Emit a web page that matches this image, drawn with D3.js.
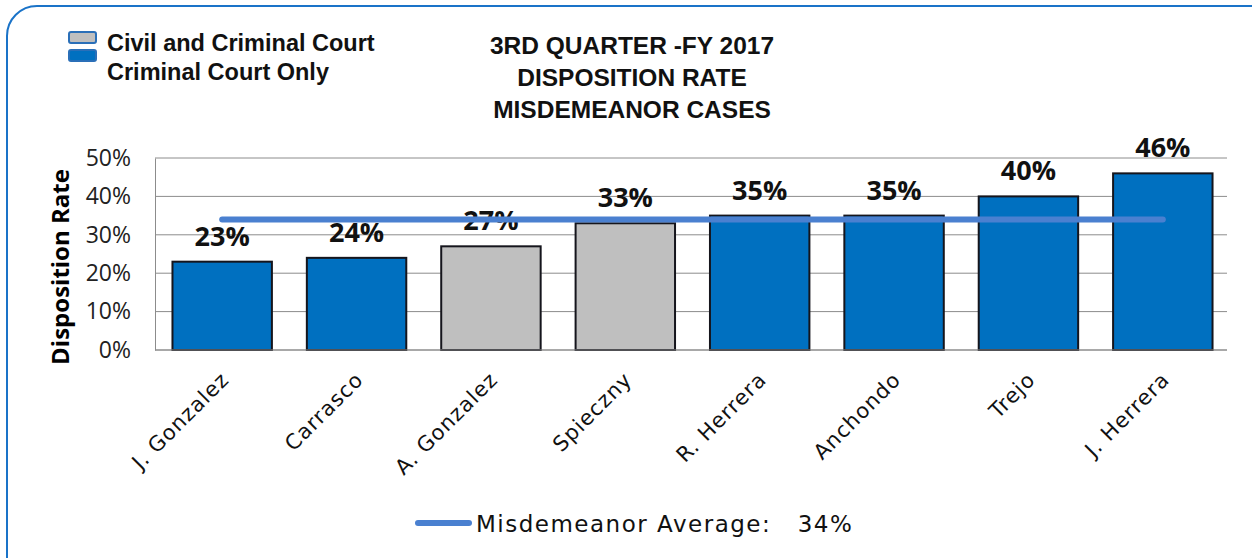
<!DOCTYPE html>
<html>
<head>
<meta charset="utf-8">
<script src="https://cdn.jsdelivr.net/npm/d3@7"></script>
<style>
  body { margin: 0; background: #fff; }
  svg { display: block; }
</style>
</head>
<body>
<div id="chart"></div>
<script>
// Chart data
const judges = ["J. Gonzalez", "Carrasco", "A. Gonzalez", "Spieczny", "R. Herrera", "Anchondo", "Trejo", "J. Herrera"]
const rates = [0.23, 0.24, 0.27, 0.33, 0.35, 0.35, 0.40, 0.46]
const courtType = ["criminal", "criminal", "civil", "civil", "criminal", "criminal", "criminal", "criminal"]
const average = 0.34
const yTicks = [0, 0.1, 0.2, 0.3, 0.4, 0.5]
const titleLines = ["3RD QUARTER -FY 2017", "DISPOSITION RATE", "MISDEMEANOR CASES"]
const legendItems = [
    { key: "civil", label: "Civil and Criminal Court" },
    { key: "criminal", label: "Criminal Court Only" }
]

const width = 1252
const height = 558
const margin = { top: 158, bottom: 208, left: 155, right: 25 }

const colors = { civil: "#bfbfbf", criminal: "#0070c0", avg: "#4a80d0" }
const geometric = "'DejaVu Sans', sans-serif"
const pct = d3.format(".0%")

const svg = d3.select("#chart").append("svg")
    .attr("width", width)
    .attr("height", height)

// Rounded frame
svg.append("rect")
    .attr("x", 7).attr("y", 6)
    .attr("width", width + 30).attr("height", height + 30)
    .attr("rx", 30)
    .attr("fill", "none")
    .attr("stroke", "#1a73c8")
    .attr("stroke-width", 2)

const x = d3.scaleBand()
    .domain(judges)
    .range([margin.left, width - margin.right + 3])
    .paddingInner(0.26)
    .paddingOuter(0.13)

const y = d3.scaleLinear()
    .domain([0, 0.5])
    .range([height - margin.bottom, margin.top])

// Gridlines
svg.append("g")
    .selectAll("line")
    .data(yTicks)
    .join("line")
    .attr("x1", margin.left)
    .attr("x2", width - margin.right)
    .attr("y1", d => y(d))
    .attr("y2", d => y(d))
    .attr("stroke", "#8c8c8c")
    .attr("stroke-width", 1)

// Left axis
const yAxis = svg.append("g")
    .attr("transform", translate(margin.left, 0))
    .call(d3.axisLeft(y).tickValues(yTicks).tickFormat(pct).tickSize(0).tickPadding(24))
yAxis.select(".domain").attr("stroke", "#8c8c8c")
yAxis.selectAll("text")
    .attr("font-family", "'Open Sans', sans-serif")
    .attr("font-size", 23)
    .attr("fill", "#222")

svg.append("text")
    .attr("transform", `translate(61,267) rotate(-90)`)
    .attr("text-anchor", "middle")
    .attr("dy", "0.35em")
    .attr("font-family", "'Open Sans', sans-serif")
    .attr("font-weight", "bold")
    .attr("font-size", 24)
    .text("Disposition Rate")

// Bars
svg.append("g")
    .selectAll("rect")
    .data(judges)
    .join("rect")
    .attr("x", d => x(d))
    .attr("y", (d, i) => y(rates[i]))
    .attr("width", x.bandwidth())
    .attr("height", (d, i) => y(0) - y(rates[i]))
    .attr("fill", (d, i) => colors[courtType[i]])
    .attr("stroke", "#15151c")
    .attr("stroke-width", 2)

// Value labels
svg.append("g")
    .selectAll("text")
    .data(judges)
    .join("text")
    .attr("x", d => x(d) + x.bandwidth() / 2)
    .attr("y", (d, i) => y(rates[i]) - 16)
    .attr("text-anchor", "middle")
    .attr("font-family", "'Open Sans', sans-serif")
    .attr("font-weight", "bold")
    .attr("font-size", 27)
    .attr("fill", "#111")
    .text((d, i) => pct(rates[i]))

// Bottom axis
const xAxis = svg.append("g")
    .attr("transform", translate(0, y(0)))
    .call(d3.axisBottom(x).tickSize(0).tickPadding(0))
xAxis.select(".domain").attr("stroke", "#8c8c8c").attr("d", `M${margin.left},0H${width - margin.right}`)
xAxis.selectAll("text")
    .attr("font-family", geometric)
    .attr("font-size", 21)
    .attr("letter-spacing", 1)
    .attr("fill", "#111")
    .attr("text-anchor", "end")
    .attr("dy", 0)
    .attr("transform", "translate(8,31) rotate(-45)")

// Average line
svg.append("line")
    .attr("x1", x(judges[0]) + x.bandwidth() / 2)
    .attr("x2", x(judges[judges.length - 1]) + x.bandwidth() / 2)
    .attr("y1", y(average))
    .attr("y2", y(average))
    .attr("stroke", colors.avg)
    .attr("stroke-width", 6)
    .attr("stroke-linecap", "round")

// Title
svg.append("text")
    .attr("text-anchor", "middle")
    .attr("font-family", "'Liberation Sans', Arial, sans-serif")
    .attr("font-weight", "bold")
    .attr("font-size", 24.5)
    .attr("fill", "#111")
    .selectAll("tspan")
    .data(titleLines)
    .join("tspan")
    .attr("x", 632)
    .attr("y", (d, i) => 54 + i * 32)
    .text(d => d)

// Legend, top left
const legend = svg.append("g")
legend.selectAll("rect")
    .data(legendItems)
    .join("rect")
    .attr("x", 69)
    .attr("y", (d, i) => 32 + i * 18)
    .attr("width", 27)
    .attr("height", 11)
    .attr("rx", 2)
    .attr("fill", d => colors[d.key])
    .attr("stroke", "#2a6fb8")
    .attr("stroke-width", 2)
legend.selectAll("text")
    .data(legendItems)
    .join("text")
    .attr("x", 107)
    .attr("y", (d, i) => 51 + i * 29)
    .attr("font-family", "'Liberation Sans', Arial, sans-serif")
    .attr("font-weight", "bold")
    .attr("font-size", 23.5)
    .attr("fill", "#111")
    .text(d => d.label)

// Legend, bottom
svg.append("line")
    .attr("x1", 418).attr("x2", 469)
    .attr("y1", 523).attr("y2", 523)
    .attr("stroke", colors.avg)
    .attr("stroke-width", 6)
    .attr("stroke-linecap", "round")
svg.append("text")
    .attr("x", 476)
    .attr("y", 532)
    .attr("font-family", geometric)
    .attr("font-size", 23)
    .attr("letter-spacing", 1.5)
    .attr("fill", "#111")
    .attr("xml:space", "preserve")
    .text(`Misdemeanor Average:   ${pct(average)}`)

function translate(x, y) {
    return `translate(${x},${y})`
}
</script>
</body>
</html>
